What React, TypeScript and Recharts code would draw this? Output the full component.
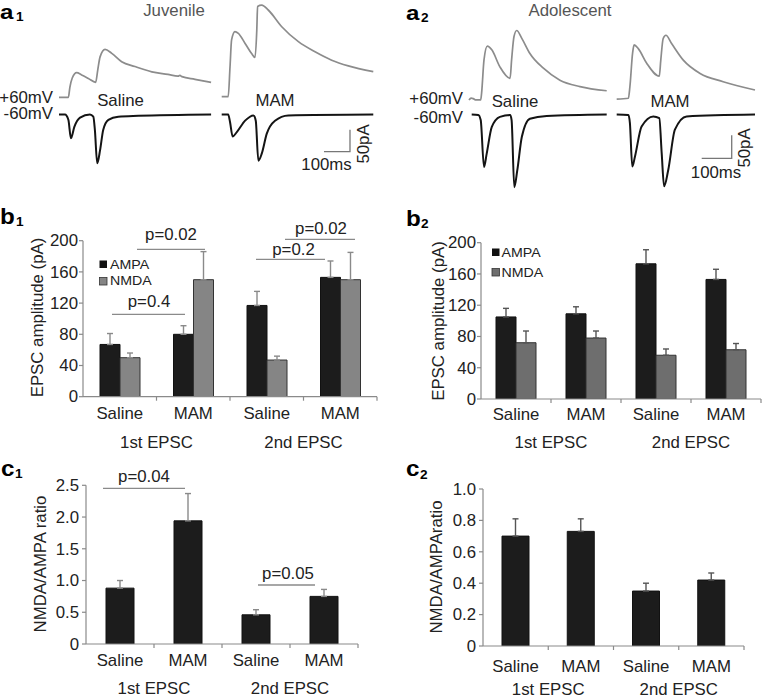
import React from 'react';
import { BarChart, Bar, XAxis, YAxis, ErrorBar, LineChart, Line } from 'recharts';

const FONT = '"Liberation Sans", Arial, Helvetica, sans-serif';
const SX = 1.05;
const FS = 16;
const AXIS = '#8a8a8a';
const TXT = '#222';

// ---------- categories ----------
const conditions = ['Saline', 'MAM', 'Saline', 'MAM'];
const epscGroups = ['1st EPSC', '2nd EPSC'];

// ---------- b1 (juvenile) EPSC amplitude, pA ----------
const b1Ampa = [67, 80, 117, 153];
const b1AmpaErr = [14, 11, 18, 21];
const b1Nmda = [50, 150, 47, 150];
const b1NmdaErr = [6, 36, 5, 35];
const ampTicks = [0, 40, 80, 120, 160, 200];

// ---------- b2 (adolescent) EPSC amplitude, pA ----------
const b2Ampa = [105, 109, 173, 153];
const b2AmpaErr = [11, 9, 18, 13];
const b2Nmda = [72, 78, 56, 63];
const b2NmdaErr = [15, 9, 8, 8];

// ---------- c1 / c2 NMDA/AMPA ratio ----------
const c1Ratio = [0.88, 1.94, 0.46, 0.75];
const c1RatioErr = [0.12, 0.43, 0.08, 0.11];
const c1Ticks = [0, 0.5, 1, 1.5, 2, 2.5];
const c2Ratio = [0.7, 0.73, 0.35, 0.42];
const c2RatioErr = [0.11, 0.08, 0.05, 0.045];
const c2Ticks = [0, 0.2, 0.4, 0.6, 0.8, 1.0];

// ---------- example traces: [time ms, current pA] relative to trace start/baseline ----------
type Pt = [number, number];
const a1SalineNmda: Pt[] = [[0,0],[36,0],[42,23],[51,44],[68,56],[87,51],[113,43],[141,34],[149,62],[158,92],[177,109],[203,100],[241,81],[292,70],[357,58],[419,52],[458,48],[465,50],[473,47],[523,41],[585,34]];
const a1SalineAmpa: Pt[] = [[0,0],[23,0],[36,-12],[46,-54],[59,-28],[81,-7],[119,0],[132,-5],[138,-35],[147,-111],[158,-81],[170,-35],[190,-12],[228,-5],[305,-3],[585,0]];
const a1MamNmda: Pt[] = [[0,0],[25,0],[32,68],[38,129],[51,148],[64,144],[90,121],[115,98],[128,89],[135,152],[138,205],[154,208],[179,197],[231,159],[295,125],[359,102],[423,83],[487,70],[583,57]];
const a1MamAmpa: Pt[] = [[0,0],[25,0],[32,-17],[42,-50],[58,-40],[90,-14],[122,-2],[131,-14],[141,-105],[154,-89],[173,-44],[205,-14],[256,-2],[583,0]];
const a2SalineNmda: Pt[] = [[0,-1],[7,3],[14,2],[23,-1],[39,-1],[42,14],[50,86],[61,116],[76,108],[103,71],[137,46],[142,86],[150,137],[159,150],[176,133],[203,100],[248,68],[303,42],[370,28],[459,19]];
const a2SalineAmpa: Pt[] = [[0,1],[22,0],[30,-11],[41,-113],[50,-84],[67,-26],[94,-4],[128,0],[133,-11],[142,-157],[152,-120],[167,-48],[194,-8],[250,-2],[450,1]];
const a2MamNmda: Pt[] = [[0,-1],[39,1],[44,26],[53,99],[58,117],[72,109],[100,77],[142,49],[147,84],[155,131],[164,138],[183,120],[222,84],[278,55],[355,37],[461,19]];
const a2MamAmpa: Pt[] = [[0,1],[39,0],[44,-17],[52,-112],[61,-90],[83,-25],[122,-3],[142,-7],[150,-83],[158,-155],[172,-119],[194,-32],[233,-3],[461,1]];
const scaleBar: Pt[] = [[0,0],[100,0],[100,50]]; // 100 ms, 50 pA

// ---------- helpers ----------
const shift = (pts: Pt[], dt: number, di: number) => pts.map(([t, i]) => ({ t: t + dt, i: i + di }));

function T({ x, y, children, size = FS, anchor = 'start', weight = 'normal', fill = TXT, rotate = 0, sx = SX }: any) {
  return (
    <text transform={`translate(${x},${y}) rotate(${rotate}) scale(${sx},1)`} fontSize={size}
      textAnchor={anchor} fontWeight={weight} fill={fill} fontFamily={FONT}>{children}</text>
  );
}

function CatTick(props: any) {
  const { x, y, index, band, labelDy, groupDy } = props;
  return (
    <g>
      <line x1={x + band / 2} x2={x + band / 2} y1={y} y2={y + 4} stroke={AXIS} strokeWidth={1.2} />
      <T x={x} y={y + labelDy} anchor="middle">{conditions[index]}</T>
      {index % 2 === 0 ? <T x={x + band / 2} y={y + groupDy} anchor="middle">{epscGroups[index / 2]}</T> : null}
    </g>
  );
}

function NumTick(props: any) {
  const { x, y, payload, fmt } = props;
  return (
    <text transform={`translate(${x},${y}) scale(${SX},1)`} textAnchor="end" dy="0.36em"
      fontSize={FS} fill={TXT} fontFamily={FONT}>{fmt(payload.value)}</text>
  );
}

function BarPanel({ rows, series, box, plot, domain, ticks, fmt, barSize, tickMargin, labelDy, groupDy }: any) {
  const yAxisW = 50, xAxisH = 50;
  const margin = {
    top: plot.top - box.top,
    right: box.left + box.width - plot.right,
    bottom: box.top + box.height - plot.bottom - xAxisH,
    left: plot.left - box.left - yAxisW,
  };
  const band = (plot.right - plot.left) / rows.length;
  return (
    <div style={{ position: 'absolute', left: box.left, top: box.top }}>
      <BarChart width={box.width} height={box.height} data={rows} margin={margin} barGap={0} barSize={barSize}>
        <XAxis dataKey="key" height={xAxisH} tickSize={0} tickMargin={0} tickLine={false} interval={0}
          axisLine={{ stroke: AXIS, strokeWidth: 1.2 }}
          tick={(p: any) => <CatTick {...p} band={band} labelDy={labelDy} groupDy={groupDy} />} />
        <YAxis width={yAxisW} domain={domain} ticks={ticks} interval={0} allowDataOverflow tickSize={4}
          tickMargin={tickMargin} axisLine={{ stroke: AXIS, strokeWidth: 1.2 }} tickLine={{ stroke: AXIS, strokeWidth: 1.2 }}
          tick={(p: any) => <NumTick {...p} fmt={fmt} />} />
        {series.map((s: any) => (
          <Bar key={s.key} dataKey={s.key} fill={s.fill} stroke={s.stroke} strokeWidth={1} isAnimationActive={false}>
            <ErrorBar dataKey={s.errKey} direction="y" width={3} stroke={s.errStroke} strokeWidth={1.4} />
          </Bar>
        ))}
      </BarChart>
    </div>
  );
}

function TracePanel({ box, pxPerMs, pxPerPa, zeroY, traces }: any) {
  const xMax = box.width / pxPerMs;
  const yMax = (zeroY - box.top) / pxPerPa;
  const yMin = -(box.top + box.height - zeroY) / pxPerPa;
  return (
    <div style={{ position: 'absolute', left: box.left, top: box.top }}>
      <LineChart width={box.width} height={box.height} margin={{ top: 0, right: 0, bottom: 0, left: 0 }}>
        <XAxis dataKey="t" type="number" domain={[0, xMax]} allowDataOverflow hide />
        <YAxis type="number" domain={[yMin, yMax]} allowDataOverflow hide />
        {traces.map((tr: any, k: number) => (
          <Line key={k} data={tr.data} dataKey="i" type={tr.type || 'monotone'} stroke={tr.stroke}
            strokeWidth={tr.width} dot={false} activeDot={false} isAnimationActive={false} />
        ))}
      </LineChart>
    </div>
  );
}

const fmtInt = (v: number) => String(v);
const fmtDec = (v: number) => (v === 0 ? '0' : v.toFixed(1));

const GRAY_TR = '#8c8c8c';
const BLACK_TR = '#141414';

export default function App() {
  const b1Rows = conditions.map((c, k) => ({ key: `${c}-${k}`, ampa: b1Ampa[k], ampaErr: [0, b1AmpaErr[k]], nmda: b1Nmda[k], nmdaErr: [0, b1NmdaErr[k]] }));
  const b2Rows = conditions.map((c, k) => ({ key: `${c}-${k}`, ampa: b2Ampa[k], ampaErr: [0, b2AmpaErr[k]], nmda: b2Nmda[k], nmdaErr: [0, b2NmdaErr[k]] }));
  const c1Rows = conditions.map((c, k) => ({ key: `${c}-${k}`, ratio: c1Ratio[k], ratioErr: [0, c1RatioErr[k]] }));
  const c2Rows = conditions.map((c, k) => ({ key: `${c}-${k}`, ratio: c2Ratio[k], ratioErr: [0, c2RatioErr[k]] }));

  const a1Traces = [
    { data: shift(a1SalineNmda, 34.6, 39), stroke: GRAY_TR, width: 1.7 },
    { data: shift(a1SalineAmpa, 34.6, 0), stroke: BLACK_TR, width: 2 },
    { data: shift(a1MamNmda, 660.4, 40.5), stroke: GRAY_TR, width: 1.7 },
    { data: shift(a1MamAmpa, 660.4, 0), stroke: BLACK_TR, width: 2 },
    { data: shift(scaleBar, 1053.8, -84.5), stroke: '#777', width: 1.3, type: 'linear' },
  ];
  const a2Traces = [
    { data: shift(a2SalineNmda, 30, 33.7), stroke: GRAY_TR, width: 1.7 },
    { data: shift(a2SalineAmpa, 39, 0), stroke: BLACK_TR, width: 2 },
    { data: shift(a2MamNmda, 522.3, 35.4), stroke: GRAY_TR, width: 1.7 },
    { data: shift(a2MamAmpa, 522.3, 0), stroke: BLACK_TR, width: 2 },
    { data: shift(scaleBar, 805.7, -94.1), stroke: '#777', width: 1.3, type: 'linear' },
  ];

  const bSeries1 = [
    { key: 'ampa', errKey: 'ampaErr', fill: '#1c1c1c', stroke: '#111', errStroke: '#8a8a8a' },
    { key: 'nmda', errKey: 'nmdaErr', fill: '#858585', stroke: '#333', errStroke: '#8a8a8a' },
  ];
  const bSeries2 = [
    { key: 'ampa', errKey: 'ampaErr', fill: '#1c1c1c', stroke: '#111', errStroke: '#555' },
    { key: 'nmda', errKey: 'nmdaErr', fill: '#6e6e6e', stroke: '#333', errStroke: '#555' },
  ];
  const cSeries1 = [{ key: 'ratio', errKey: 'ratioErr', fill: '#1c1c1c', stroke: '#111', errStroke: '#8a8a8a' }];
  const cSeries2 = [{ key: 'ratio', errKey: 'ratioErr', fill: '#1c1c1c', stroke: '#111', errStroke: '#555' }];

  const sig = { stroke: '#8a8a8a', strokeWidth: 1.3 };

  return (
    <div style={{ position: 'absolute', left: 0, top: 0, width: 762, height: 699, background: '#fff', overflow: 'hidden' }}>
      <TracePanel box={{ left: 50, top: 0, width: 330, height: 175 }} pxPerMs={0.26} pxPerPa={0.44} zeroY={114.5} traces={a1Traces} />
      <TracePanel box={{ left: 460, top: 0, width: 302, height: 200 }} pxPerMs={0.3} pxPerPa={0.46} zeroY={115} traces={a2Traces} />

      <BarPanel rows={b1Rows} series={bSeries1} box={{ left: 0, top: 200, width: 385, height: 260 }}
        plot={{ left: 83, right: 377, top: 240.7, bottom: 396.7 }} domain={[0, 200]} ticks={ampTicks} fmt={fmtInt}
        barSize={20} tickMargin={1} labelDy={22} groupDy={51} />
      <BarPanel rows={b2Rows} series={bSeries2} box={{ left: 400, top: 200, width: 362, height: 260 }}
        plot={{ left: 481, right: 761, top: 242.7, bottom: 399 }} domain={[0, 200]} ticks={ampTicks} fmt={fmtInt}
        barSize={20} tickMargin={1} labelDy={21} groupDy={49} />
      <BarPanel rows={c1Rows} series={cSeries1} box={{ left: 0, top: 460, width: 380, height: 239 }}
        plot={{ left: 86, right: 358, top: 485.3, bottom: 644 }} domain={[0, 2.5]} ticks={c1Ticks} fmt={fmtDec}
        barSize={28} tickMargin={3} labelDy={22} groupDy={50} />
      <BarPanel rows={c2Rows} series={cSeries2} box={{ left: 400, top: 460, width: 362, height: 239 }}
        plot={{ left: 483, right: 744, top: 489, bottom: 646 }} domain={[0, 1]} ticks={c2Ticks} fmt={fmtDec}
        barSize={27} tickMargin={3} labelDy={26} groupDy={49} />

      <svg width={762} height={699} style={{ position: 'absolute', left: 0, top: 0, pointerEvents: 'none' }}>
        {/* panel letters */}
        <T x={0} y={19} size={21} weight="bold" fill="#000" sx={1.15}>a</T>
        <T x={16} y={21} size={13} weight="bold" fill="#000">1</T>
        <T x={406} y={19.5} size={21} weight="bold" fill="#000" sx={1.15}>a</T>
        <T x={421} y={21.5} size={13} weight="bold" fill="#000">2</T>
        <T x={0} y={224} size={22} weight="bold" fill="#000" sx={1.1}>b</T>
        <T x={16} y={226} size={13} weight="bold" fill="#000">1</T>
        <T x={406} y={226} size={22} weight="bold" fill="#000" sx={1.1}>b</T>
        <T x={421} y={228} size={13} weight="bold" fill="#000">2</T>
        <T x={1} y={476} size={22} weight="bold" fill="#000" sx={1.1}>c</T>
        <T x={15} y={478} size={13} weight="bold" fill="#000">1</T>
        <T x={406} y={476} size={22} weight="bold" fill="#000" sx={1.1}>c</T>
        <T x={420} y={478.5} size={13} weight="bold" fill="#000">2</T>

        {/* trace panel titles and labels */}
        <T x={174} y={16} anchor="middle" fill="#555">Juvenile</T>
        <T x={570} y={16} anchor="middle" fill="#555">Adolescent</T>
        <T x={53} y={102.7} anchor="end">+60mV</T>
        <T x={53} y={119.3} anchor="end">-60mV</T>
        <T x={463} y={104} anchor="end">+60mV</T>
        <T x={463} y={122.5} anchor="end">-60mV</T>
        <T x={120.5} y={106} anchor="middle">Saline</T>
        <T x={275} y={106} anchor="middle">MAM</T>
        <T x={515} y={106.7} anchor="middle">Saline</T>
        <T x={670} y={106.7} anchor="middle">MAM</T>
        <T x={326.5} y={170} anchor="middle">100ms</T>
        <T x={716} y={178.3} anchor="middle">100ms</T>
        <T x={369} y={144} anchor="middle" rotate={-90}>50pA</T>
        <T x={750} y={148} anchor="middle" rotate={-90}>50pA</T>

        {/* y axis titles */}
        <T x={43} y={317.5} anchor="middle" rotate={-90}>EPSC amplitude (pA)</T>
        <T x={444} y={321} anchor="middle" rotate={-90}>EPSC amplitude (pA)</T>
        <T x={45.5} y={564} anchor="middle" rotate={-90}>NMDA/AMPA ratio</T>
        <T x={442} y={567} anchor="middle" rotate={-90}>NMDA/AMPAratio</T>

        {/* legends */}
        <rect x={99.5} y={260.5} width={7.5} height={7.5} fill="#111" />
        <rect x={99.5} y={277.5} width={7.5} height={7.5} fill="#858585" stroke="#333" strokeWidth={0.8} />
        <T x={110} y={268.5} size={13.5}>AMPA</T>
        <T x={110} y={285} size={13.5}>NMDA</T>
        <rect x={492} y={248.5} width={7.5} height={7.5} fill="#111" />
        <rect x={492} y={268.5} width={7.5} height={7.5} fill="#6e6e6e" stroke="#333" strokeWidth={0.8} />
        <T x={501.5} y={256.5} size={13.5}>AMPA</T>
        <T x={501.5} y={276.5} size={13.5}>NMDA</T>

        {/* significance annotations */}
        <line x1={112} x2={185} y1={314.3} y2={314.3} {...sig} />
        <T x={149} y={307} anchor="middle">p=0.4</T>
        <line x1={137} x2={205} y1={249.3} y2={249.3} {...sig} />
        <T x={171} y={240} anchor="middle">p=0.02</T>
        <line x1={256} x2={325} y1={259.3} y2={259.3} {...sig} />
        <T x={293.5} y={255} anchor="middle">p=0.2</T>
        <line x1={285} x2={355} y1={239.3} y2={239.3} {...sig} />
        <T x={321} y={234} anchor="middle">p=0.02</T>
        <line x1={103} x2={185} y1={488.3} y2={488.3} {...sig} />
        <T x={144} y={482} anchor="middle">p=0.04</T>
        <line x1={258} x2={315} y1={585} y2={585} {...sig} />
        <T x={288} y={579} anchor="middle">p=0.05</T>
      </svg>
    </div>
  );
}
